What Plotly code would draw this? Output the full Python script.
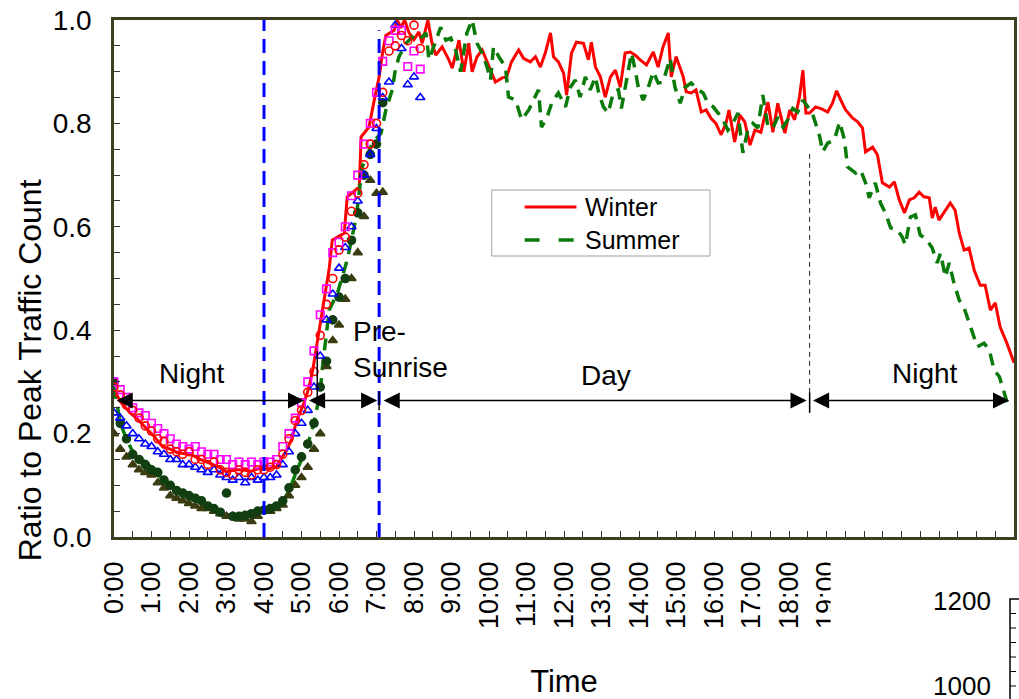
import plotly.graph_objects as go

# ---------------------------------------------------------------------------
# Data: hourly traffic normalised to the daily peak
# ---------------------------------------------------------------------------
winter_hours = [0.00, 0.17, 0.43, 0.60, 0.77, 1.04, 1.30, 1.50, 1.67, 1.90, 2.10, 2.30, 2.55, 2.80,
                3.00, 3.20, 3.43, 3.65, 3.88, 4.10, 4.33, 4.50, 4.62, 4.73, 4.86, 5.08, 5.20, 5.30,
                5.43, 5.61, 5.74, 5.82, 6.14, 6.22, 6.54, 6.59, 6.80, 6.94, 7.07, 7.16, 7.25, 7.47,
                7.55, 7.65, 7.75, 7.87, 8.00, 8.13, 8.22, 8.37, 8.48, 8.58, 8.75, 8.93, 9.02, 9.20,
                9.33, 9.46, 9.55, 9.68, 9.82, 9.95, 10.17, 10.35, 10.47, 10.60, 10.79, 10.92, 11.10,
                11.24, 11.37, 11.50, 11.64, 11.72, 11.85, 11.99, 12.07, 12.20, 12.33, 12.52, 12.65,
                12.73, 12.84, 12.97, 13.10, 13.24, 13.37, 13.50, 13.63, 13.77, 13.90, 14.03, 14.20,
                14.38, 14.51, 14.64, 14.78, 14.86, 14.99, 15.18, 15.26, 15.39, 15.52, 15.66, 15.79,
                15.92, 16.05, 16.19, 16.32, 16.40, 16.55, 16.69, 16.82, 16.96, 17.09, 17.25, 17.44,
                17.57, 17.70, 17.89, 18.02, 18.15, 18.28, 18.37, 18.45, 18.55, 18.71, 18.87, 19.03,
                19.16, 19.27, 19.38, 19.51, 19.70, 19.83, 19.96, 20.04, 20.23, 20.36, 20.49, 20.68,
                20.81, 20.94, 21.08, 21.21, 21.34, 21.47, 21.60, 21.74, 21.82, 21.90, 22.00, 22.17,
                22.30, 22.43, 22.54, 22.67, 22.80, 22.94, 23.10, 23.23, 23.37, 23.50, 23.63, 23.81,
                24.00]
winter_ratio = [0.285, 0.262, 0.240, 0.230, 0.217, 0.197, 0.174, 0.170, 0.164, 0.160, 0.158, 0.150,
                0.143, 0.135, 0.126, 0.130, 0.130, 0.127, 0.133, 0.131, 0.136, 0.155, 0.170, 0.188,
                0.222, 0.262, 0.290, 0.323, 0.381, 0.464, 0.520, 0.574, 0.588, 0.658, 0.677, 0.774,
                0.793, 0.845, 0.890, 0.936, 0.970, 0.980, 1.000, 0.985, 1.000, 0.975, 0.962, 0.977,
                0.955, 1.000, 0.955, 0.932, 0.948, 0.923, 0.907, 0.961, 0.900, 0.955, 0.900, 0.929,
                0.942, 0.919, 0.880, 0.888, 0.890, 0.919, 0.942, 0.926, 0.919, 0.929, 0.909, 0.936,
                0.975, 0.929, 0.919, 0.897, 0.855, 0.936, 0.957, 0.955, 0.923, 0.957, 0.909, 0.890,
                0.851, 0.890, 0.903, 0.870, 0.936, 0.938, 0.932, 0.923, 0.913, 0.938, 0.909, 0.948,
                0.975, 0.890, 0.929, 0.890, 0.861, 0.859, 0.865, 0.822, 0.826, 0.810, 0.800, 0.778,
                0.800, 0.826, 0.764, 0.816, 0.803, 0.758, 0.787, 0.783, 0.841, 0.783, 0.839, 0.781,
                0.826, 0.807, 0.851, 0.903, 0.820, 0.820, 0.832, 0.828, 0.822, 0.839, 0.863, 0.845,
                0.826, 0.810, 0.803, 0.791, 0.745, 0.754, 0.739, 0.685, 0.677, 0.687, 0.652, 0.627,
                0.652, 0.656, 0.667, 0.658, 0.656, 0.617, 0.638, 0.613, 0.632, 0.646, 0.632, 0.588,
                0.555, 0.559, 0.516, 0.487, 0.487, 0.439, 0.453, 0.406, 0.375, 0.337]

summer_hours = [0.00, 0.17, 0.33, 0.50, 0.75, 1.00, 1.25, 1.50, 1.75, 2.00, 2.25, 2.50, 2.75, 3.00,
                3.25, 3.50, 3.75, 4.00, 4.25, 4.50, 4.67, 4.83, 5.00, 5.17, 5.33, 5.50, 5.56, 5.74,
                5.96, 6.22, 6.46, 6.62, 6.89, 7.12, 7.25, 7.42, 7.50, 7.60, 7.79, 7.95, 8.13, 8.32,
                8.40, 8.58, 8.71, 8.85, 8.98, 9.11, 9.24, 9.41, 9.55, 9.68, 9.82, 9.95, 10.04, 10.12,
                10.26, 10.44, 10.52, 10.71, 10.87, 11.06, 11.24, 11.32, 11.40, 11.54, 11.67, 11.85,
                12.04, 12.17, 12.30, 12.43, 12.57, 12.70, 12.84, 12.92, 13.05, 13.18, 13.32, 13.45,
                13.53, 13.66, 13.80, 13.90, 13.98, 14.11, 14.25, 14.38, 14.51, 14.64, 14.83, 14.96,
                15.10, 15.23, 15.39, 15.58, 15.71, 15.84, 15.98, 16.11, 16.24, 16.37, 16.50, 16.64,
                16.77, 16.90, 17.04, 17.17, 17.30, 17.44, 17.57, 17.70, 17.84, 17.97, 18.10, 18.23,
                18.37, 18.50, 18.62, 18.71, 18.82, 18.90, 19.03, 19.21, 19.35, 19.48, 19.56, 19.78,
                19.91, 20.04, 20.14, 20.30, 20.44, 20.57, 20.71, 20.89, 21.02, 21.10, 21.24, 21.37,
                21.50, 21.64, 21.82, 21.95, 22.04, 22.17, 22.27, 22.40, 22.54, 22.67, 22.75, 22.88,
                23.02, 23.20, 23.34, 23.47, 23.61, 23.74, 23.87]
summer_ratio = [0.290, 0.220, 0.190, 0.165, 0.150, 0.135, 0.115, 0.100, 0.090, 0.080, 0.072, 0.062,
                0.050, 0.043, 0.040, 0.040, 0.045, 0.050, 0.055, 0.068, 0.090, 0.120, 0.150, 0.180,
                0.220, 0.280, 0.330, 0.439, 0.472, 0.536, 0.619, 0.716, 0.762, 0.781, 0.826, 0.865,
                0.903, 0.929, 0.955, 0.967, 0.961, 0.975, 0.923, 0.961, 0.986, 0.961, 0.965, 0.942,
                0.900, 0.975, 1.000, 0.955, 0.936, 0.909, 0.884, 0.948, 0.929, 0.909, 0.851, 0.845,
                0.807, 0.826, 0.851, 0.865, 0.793, 0.810, 0.839, 0.859, 0.832, 0.870, 0.884, 0.851,
                0.890, 0.865, 0.890, 0.861, 0.832, 0.820, 0.861, 0.865, 0.829, 0.880, 0.936, 0.903,
                0.870, 0.845, 0.870, 0.900, 0.878, 0.880, 0.926, 0.870, 0.839, 0.870, 0.878, 0.865,
                0.859, 0.839, 0.832, 0.820, 0.807, 0.787, 0.800, 0.820, 0.743, 0.787, 0.800, 0.791,
                0.855, 0.793, 0.791, 0.812, 0.793, 0.807, 0.829, 0.822, 0.845, 0.832, 0.820, 0.800,
                0.774, 0.745, 0.762, 0.768, 0.803, 0.768, 0.716, 0.704, 0.710, 0.685, 0.656, 0.685,
                0.646, 0.627, 0.598, 0.594, 0.580, 0.565, 0.619, 0.623, 0.584, 0.578, 0.559, 0.530,
                0.549, 0.503, 0.530, 0.491, 0.458, 0.443, 0.426, 0.395, 0.368, 0.375, 0.362, 0.323,
                0.310, 0.279, 0.246]

# Individual days, 10-minute samples before sunrise
winter_day_minutes = list(range(0, 500, 10))      # 0:00 .. 8:10
summer_day_minutes = list(range(0, 440, 10))      # 0:00 .. 7:10

winter_day_a = [0.290, 0.275, 0.255, 0.245, 0.230, 0.215, 0.205, 0.190, 0.185, 0.170, 0.165, 0.160,
                0.165, 0.150, 0.150, 0.140, 0.145, 0.130, 0.125, 0.120, 0.130, 0.125, 0.120, 0.130,
                0.130, 0.135, 0.140, 0.160, 0.190, 0.225, 0.245, 0.280, 0.320, 0.390, 0.450, 0.500,
                0.555, 0.580, 0.630, 0.665, 0.720, 0.760, 0.800, 0.860, 0.940, 0.950, 0.970, 0.960,
                0.990, 0.945]
winter_day_b = [0.300, 0.285, 0.270, 0.250, 0.240, 0.235, 0.220, 0.210, 0.200, 0.190, 0.180, 0.175,
                0.170, 0.175, 0.165, 0.160, 0.160, 0.150, 0.150, 0.140, 0.145, 0.140, 0.145, 0.140,
                0.145, 0.145, 0.150, 0.175, 0.200, 0.230, 0.260, 0.300, 0.360, 0.430, 0.480, 0.550,
                0.570, 0.600, 0.660, 0.700, 0.760, 0.800, 0.860, 0.920, 0.960, 0.980, 0.980, 0.910,
                0.940, 0.905]
winter_day_c = [0.240, 0.230, 0.215, 0.200, 0.190, 0.180, 0.175, 0.165, 0.160, 0.150, 0.150, 0.140,
                0.140, 0.135, 0.130, 0.125, 0.130, 0.120, 0.115, 0.110, 0.115, 0.105, 0.115, 0.110,
                0.115, 0.115, 0.120, 0.140, 0.165, 0.200, 0.220, 0.245, 0.290, 0.350, 0.420, 0.470,
                0.520, 0.560, 0.600, 0.650, 0.700, 0.740, 0.790, 0.850, 0.880, 0.990, 0.945, 0.875,
                0.890, 0.850]
summer_day_a = [0.300, 0.220, 0.190, 0.160, 0.150, 0.140, 0.130, 0.125, 0.110, 0.100, 0.090, 0.085,
                0.080, 0.075, 0.070, 0.060, 0.055, 0.048, 0.085, 0.040, 0.040, 0.042, 0.045, 0.050,
                0.052, 0.055, 0.060, 0.070, 0.095, 0.130, 0.155, 0.180, 0.220, 0.290, 0.340, 0.420,
                0.464, 0.500, 0.574, 0.627, 0.700, 0.740, 0.760, 0.840]
summer_day_b = [0.200, 0.170, 0.155, 0.140, 0.130, 0.125, 0.120, 0.105, 0.095, 0.080, 0.075, 0.070,
                0.065, 0.060, 0.055, 0.055, 0.050, 0.045, 0.040, 0.040, 0.035, 0.035, 0.030, 0.040,
                0.050, 0.050, 0.055, 0.062, 0.080, 0.100, 0.115, 0.135, 0.170, 0.200, 0.330, 0.380,
                0.410, 0.460, 0.500, 0.550, 0.620, 0.690, 0.665, 0.667]

hour_labels = ["0:00", "1:00", "2:00", "3:00", "4:00", "5:00", "6:00", "7:00", "8:00", "9:00",
               "10:00", "11:00", "12:00", "13:00", "14:00", "15:00", "16:00", "17:00", "18:00",
               "19:00"]
y_tick_values = [0.0, 0.2, 0.4, 0.6, 0.8, 1.0]

# Period boundaries (hours) and label positions
period_arrows = [(0.03, 5.07), (5.16, 7.02), (7.15, 18.47), (18.60, 23.87)]
arrow_level = 0.264
period_labels = [("Night", 2.07, 0.317), ("Day", 13.13, 0.313), ("Night", 21.63, 0.317)]

# ---------------------------------------------------------------------------
# Figure geometry
# ---------------------------------------------------------------------------
W, H = 1019, 699
ML, MR, MT, MB = 114, 2, 20, 162
PW, PH = W - ML - MR, H - MT - MB
FONT = "Liberation Sans, Arial, sans-serif"


def px_x(p):
    return (p - ML) / PW


def px_y(p):
    return (H - MB - p) / PH


fig = go.Figure()

fig.add_trace(go.Scatter(x=winter_hours, y=winter_ratio, mode="lines", name="Winter",
                         line=dict(color="#ff0000", width=3)))
fig.add_trace(go.Scatter(x=summer_hours, y=summer_ratio, mode="lines", name="Summer",
                         line=dict(color="#0a7a0a", width=3.5, dash="12px,8px")))


def day_trace(minutes, values, symbol, color, filled, size):
    hours = [m / 60 for m in minutes]
    marker = dict(symbol=symbol if filled else symbol + "-open", size=size,
                  color=color, line=dict(color=color, width=1.6))
    return go.Scatter(x=hours, y=values, mode="markers", marker=marker, showlegend=False)


fig.add_trace(day_trace(summer_day_minutes, summer_day_b, "triangle-up", "#3c3c12", True, 8))
fig.add_trace(day_trace(summer_day_minutes, summer_day_a, "circle", "#123f12", True, 8))
fig.add_trace(day_trace(winter_day_minutes, winter_day_c, "triangle-up", "#0000ff", False, 8))
fig.add_trace(day_trace(winter_day_minutes, winter_day_b, "square", "#ff00ff", False, 7.5))
fig.add_trace(day_trace(winter_day_minutes, winter_day_a, "circle", "#ff0000", False, 8))

shapes = []
# sunrise / boundary markers
shapes.append(dict(type="line", xref="x", yref="paper", x0=4.0, x1=4.0, y0=0, y1=1,
                   line=dict(color="#0000ff", width=3, dash="14px,8px")))
shapes.append(dict(type="line", xref="x", yref="paper", x0=7.07, x1=7.07, y0=0, y1=0.98,
                   line=dict(color="#0000ff", width=3, dash="14px,8px")))
shapes.append(dict(type="line", xref="x", yref="y", x0=18.55, x1=18.55, y0=0.244, y1=0.742,
                   line=dict(color="#222222", width=1, dash="5px,4px")))
for xv, y0, y1 in [(5.42, 0.255, 0.36), (7.07, 0.245, 0.28), (18.55, 0.24, 0.28)]:
    shapes.append(dict(type="line", xref="x", yref="y", x0=xv, x1=xv, y0=y0, y1=y1,
                       line=dict(color="black", width=1.5)))

# legend box
shapes.append(dict(type="rect", xref="paper", yref="paper", x0=px_x(493), x1=px_x(712),
                   y0=px_y(256), y1=px_y(190), line=dict(color="#a0a0a0", width=1),
                   fillcolor="white", layer="above"))
shapes.append(dict(type="line", xref="paper", yref="paper", x0=px_x(526), x1=px_x(578),
                   y0=px_y(207), y1=px_y(207), line=dict(color="#ff0000", width=3), layer="above"))
shapes.append(dict(type="line", xref="paper", yref="paper", x0=px_x(526), x1=px_x(578),
                   y0=px_y(240), y1=px_y(240), line=dict(color="#0a7a0a", width=3.5, dash="15px,19px"),
                   layer="above"))

# neighbouring panel edge in the lower right corner
shapes.append(dict(type="rect", xref="paper", yref="paper", x0=px_x(833), x1=px_x(1019),
                   y0=px_y(655), y1=px_y(543), line=dict(width=0), fillcolor="white", layer="above"))
shapes.append(dict(type="rect", xref="paper", yref="paper", x0=px_x(1013), x1=px_x(1030),
                   y0=px_y(720), y1=px_y(599), line=dict(color="black", width=1.5), layer="above"))
for k in range(1, 7):
    yy = 599 + 14.5 * k
    shapes.append(dict(type="line", xref="paper", yref="paper", x0=px_x(1013), x1=px_x(1019),
                       y0=px_y(yy), y1=px_y(yy), line=dict(color="black", width=1), layer="above"))

annotations = []
for x0, x1 in period_arrows:
    annotations.append(dict(x=x1, y=arrow_level, ax=x0, ay=arrow_level, xref="x", yref="y",
                            axref="x", ayref="y", text="", showarrow=True, arrowhead=2,
                            startarrowhead=2, arrowside="end+start", arrowsize=2.3,
                            startarrowsize=2.3, arrowwidth=1.4, arrowcolor="black",
                            standoff=0, startstandoff=0))
for txt, xv, yv in period_labels:
    annotations.append(dict(x=xv, y=yv, xref="x", yref="y", text=txt, showarrow=False,
                            font=dict(family=FONT, size=28, color="black")))
annotations.append(dict(x=6.33, y=0.362, xref="x", yref="y", text="Pre-<br>Sunrise",
                        showarrow=False, xanchor="left", align="left",
                        font=dict(family=FONT, size=28, color="black")))
annotations.append(dict(x=px_x(585), y=px_y(207), xref="paper", yref="paper", text="Winter",
                        showarrow=False, xanchor="left", yanchor="middle",
                        font=dict(family=FONT, size=25, color="black")))
annotations.append(dict(x=px_x(585), y=px_y(240), xref="paper", yref="paper", text="Summer",
                        showarrow=False, xanchor="left", yanchor="middle",
                        font=dict(family=FONT, size=25, color="black")))
annotations.append(dict(x=px_x(965), y=px_y(601), xref="paper", yref="paper", text="1200",
                        showarrow=False, xanchor="center", yanchor="middle",
                        font=dict(family=FONT, size=26, color="black")))
annotations.append(dict(x=px_x(965), y=px_y(686), xref="paper", yref="paper", text="1000",
                        showarrow=False, xanchor="center", yanchor="middle",
                        font=dict(family=FONT, size=26, color="black")))
# y-axis title, set lower than the plot centre
annotations.append(dict(x=px_x(30), y=px_y(370), xref="paper", yref="paper",
                        text="Ratio to Peak Traffic Count", textangle=-90, showarrow=False,
                        xanchor="center", yanchor="middle",
                        font=dict(family=FONT, size=32, color="black")))

tick_vals = list(range(24))
tick_text = hour_labels + [""] * (24 - len(hour_labels))

fig.update_layout(
    width=W, height=H, autosize=False,
    margin=dict(l=ML, r=MR, t=MT, b=MB, pad=0),
    paper_bgcolor="white", plot_bgcolor="white",
    showlegend=False,
    font=dict(family=FONT, color="black"),
    shapes=shapes, annotations=annotations,
    xaxis=dict(range=[0, 24], tickmode="array", tickvals=tick_vals, ticktext=tick_text,
               tickangle=-90, ticks="inside", ticklen=6, tickwidth=1, tickcolor="#333",
               minor=dict(dtick=0.5, tick0=0, ticks="inside", ticklen=6, tickcolor="#333"),
               showgrid=False, zeroline=False, showline=True, linecolor="#3d3d1f",
               linewidth=2.5, mirror=True, tickfont=dict(family=FONT, size=27),
               ticklabelstandoff=11,
               title=dict(text="Time", font=dict(family=FONT, size=31), standoff=45)),
    yaxis=dict(range=[0, 1], tickmode="array", tickvals=y_tick_values,
               ticktext=[f"{v:.1f}" for v in y_tick_values],
               ticks="inside", ticklen=6, tickwidth=1, tickcolor="#333",
               minor=dict(dtick=0.05, tick0=0, ticks="inside", ticklen=6, tickcolor="#333"),
               showgrid=False, zeroline=False, showline=True, linecolor="#3d3d1f",
               linewidth=2.5, mirror=True, tickfont=dict(family=FONT, size=28),
               ticklabelstandoff=14),
)

fig.write_html("out.html")
